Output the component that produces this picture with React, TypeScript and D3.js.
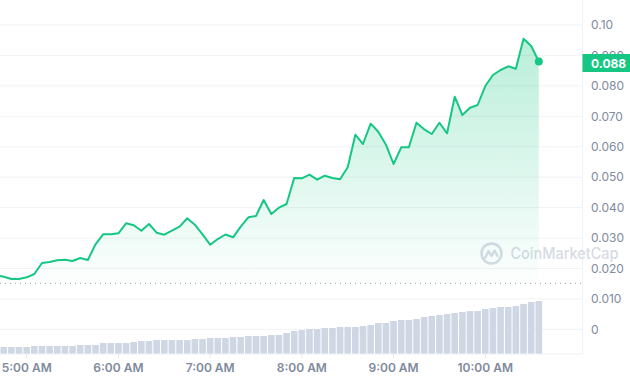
import React from "react";
import * as d3 from "d3";

// price every 5 minutes starting 4:40 AM
const startTime = new Date(2024, 0, 1, 4, 40);
const prices = [
  0.01768, 0.01729, 0.01653, 0.01653, 0.01709, 0.01817, 0.02179, 0.02212, 0.02267, 0.02287,
  0.02245, 0.02343, 0.02277, 0.02793, 0.03122, 0.03122, 0.03155, 0.03483, 0.03418, 0.0324,
  0.0346, 0.03175, 0.03109, 0.0324, 0.03372, 0.03648, 0.03437, 0.03122, 0.0278, 0.02967,
  0.03115, 0.03023, 0.03372, 0.03681, 0.03723, 0.04249, 0.03789, 0.03996, 0.04118, 0.04972,
  0.04962, 0.05081, 0.04916, 0.05048, 0.04972, 0.04929, 0.05324, 0.06395, 0.06089, 0.06757,
  0.06494, 0.06066, 0.05432, 0.05981, 0.05981, 0.06789, 0.06572, 0.06418, 0.06789, 0.06441,
  0.07644, 0.07042, 0.07282, 0.07371, 0.07995, 0.08357, 0.08521, 0.08643, 0.08564, 0.0955,
  0.0931, 0.088,
];
const volumes = [
  7, 7, 7, 7, 7, 8, 8, 8, 8, 8,
  8, 9, 9, 9, 11, 11, 11, 11, 12, 13,
  13, 14, 14, 14, 14, 14, 15, 15, 16, 16,
  16, 17, 17, 18, 18, 18, 19, 19, 21, 23,
  24, 25, 25, 26, 26, 27, 27, 27, 28, 29,
  31, 31, 33, 34, 34, 35, 37, 38, 39, 40,
  41, 42, 43, 43, 45, 46, 47, 47, 48, 50,
  52, 53,
];
const yTicks = [0.1, 0.09, 0.08, 0.07, 0.06, 0.05, 0.04, 0.03, 0.02, 0.01, 0];
const yTickLabels = ["0.10", "0.090", "0.080", "0.070", "0.060", "0.050", "0.040", "0.030", "0.020", "0.010", "0"];
const xTickHours = [5, 6, 7, 8, 9, 10];
const lastLabel = "0.088";

const GREEN = "#16c784";
const FONT = "Inter, 'Noto Sans', sans-serif";

export default function App() {
  const W = 630, H = 380;
  const plotRight = 582.5;
  const axisY = 354;
  const baseY = 283.3;

  const times = prices.map((_, i) => new Date(startTime.getTime() + i * 5 * 60000));
  const x = d3
    .scaleTime()
    .domain([new Date(2024, 0, 1, 5, 0), new Date(2024, 0, 1, 10, 0)])
    .range([26.7, 485.3]);
  const y = d3.scaleLinear().domain([0, 0.1]).range([329.3, 25]);
  const vol = d3.scaleLinear().domain([0, d3.max(volumes) as number]).range([0, 53]);

  const data = prices.map((p, i) => ({ t: times[i], p, v: volumes[i] }));
  const line = d3
    .line<(typeof data)[0]>()
    .x((d) => x(d.t))
    .y((d) => y(d.p));
  const area = d3
    .area<(typeof data)[0]>()
    .x((d) => x(d.t))
    .y0(baseY)
    .y1((d) => y(d.p));

  const fmt = d3.timeFormat("%-I:%M %p");
  const barW = 6.6;
  const last = data[data.length - 1];
  const topY = y(d3.max(prices) as number);

  return (
    <svg
      width={W}
      height={H}
      style={{ position: "absolute", left: 0, top: 0, display: "block", background: "#fff" }}
      fontFamily={FONT}
    >
      <defs>
        <linearGradient id="areaGrad" gradientUnits="userSpaceOnUse" x1="0" y1={topY} x2="0" y2={baseY}>
          <stop offset="0" stopColor={GREEN} stopOpacity={0.3} />
          <stop offset="1" stopColor={GREEN} stopOpacity={0.01} />
        </linearGradient>
      </defs>

      {/* grid */}
      {yTicks.map((t) => (
        <line key={t} x1={0} x2={plotRight} y1={y(t)} y2={y(t)} stroke="#f1f2f4" strokeWidth={1} />
      ))}
      <line x1={plotRight} x2={plotRight} y1={0} y2={axisY} stroke="#eff1f4" strokeWidth={1} />

      {/* volume bars */}
      {data.map((d, i) => (
        <rect
          key={i}
          x={x(d.t) - barW / 2}
          y={axisY - vol(d.v)}
          width={barW}
          height={vol(d.v)}
          fill="#cfd6e4"
        />
      ))}

      {/* baseline dotted */}
      <line
        x1={0}
        x2={plotRight}
        y1={baseY}
        y2={baseY}
        stroke="#9aa0aa"
        strokeWidth={1}
        strokeDasharray="1 4"
      />

      {/* watermark */}
      <g opacity={0.9}>
        <circle cx={491.5} cy={253.5} r={10} fill="none" stroke="#d3d8e3" strokeWidth={2.6} />
        <path
          d="M485 258 L488.5 251 L491.5 256 L494.5 250.5 L497.5 256"
          fill="none"
          stroke="#d3d8e3"
          strokeWidth={2.4}
          strokeLinejoin="round"
          strokeLinecap="round"
        />
        <text
          x={510.5}
          y={259}
          fontSize={15.5}
          fontWeight={500}
          fill="#d3d8e3"
          textLength={108}
          lengthAdjust="spacingAndGlyphs"
        >
          CoinMarketCap
        </text>
      </g>

      {/* area & line */}
      <path d={area(data) || ""} fill="url(#areaGrad)" />
      <path d={line(data) || ""} fill="none" stroke={GREEN} strokeWidth={2} strokeLinejoin="round" />
      <circle cx={x(last.t)} cy={y(last.p)} r={4} fill={GREEN} />

      {/* x axis */}
      <line x1={0} x2={plotRight} y1={axisY} y2={axisY} stroke="#eff1f4" strokeWidth={1} />
      {xTickHours.map((h) => {
        const t = new Date(2024, 0, 1, h, 0);
        return (
          <g key={h}>
            <line x1={x(t)} x2={x(t)} y1={axisY} y2={axisY + 4} stroke="#e6e8ec" />
            <text
              x={x(t)}
              y={372}
              textAnchor="middle"
              fontSize={12}
              fontWeight={600}
              fill="#808a9d"
            >
              {fmt(t)}
            </text>
          </g>
        );
      })}

      {/* y axis labels */}
      {yTicks.map((t, i) => (
        <text key={t} x={591} y={y(t) + 4.3} fontSize={12} fill="#808a9d">
          {yTickLabels[i]}
        </text>
      ))}

      {/* last price tag */}
      <rect x={582.5} y={y(last.p) - 7.5} width={47.5} height={18} fill={GREEN} />
      <text x={591} y={y(last.p) + 6} fontSize={12} fontWeight={700} fill="#fff">
        {lastLabel}
      </text>
    </svg>
  );
}
